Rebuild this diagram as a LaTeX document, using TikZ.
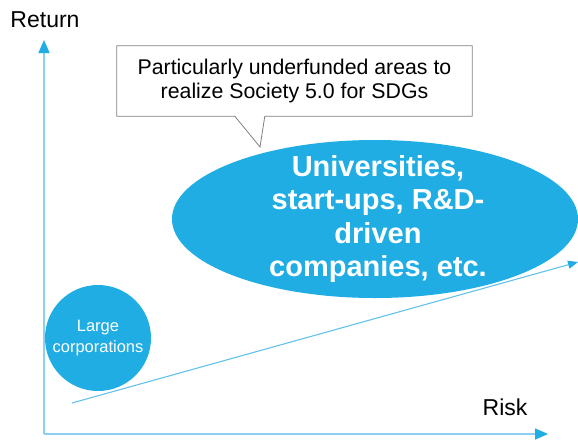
\documentclass[tikz,border=0pt]{standalone}
\usepackage{fontspec}
\setmainfont{Liberation Sans}
\usetikzlibrary{arrows.meta,calc,shapes.geometric}
\definecolor{blobblue}{HTML}{1FADE4}
\definecolor{axisblue}{HTML}{8ED0F0}
\definecolor{calloutgray}{HTML}{808080}
\tikzset{
  axis/.style={line width=1.6pt,axisblue,-{Triangle[length=13pt,width=11pt,color=blobblue]}},
  trend/.style={line width=1.1pt,axisblue!60!blobblue,-{Triangle[length=10pt,width=8pt,color=blobblue]}},
  blob/.style={fill=blobblue,text=white,inner sep=0pt,align=center},
}

\begin{document}
\begin{tikzpicture}[x=1pt,y=-1pt]
  \useasboundingbox (0,0) rectangle (578,440);
  \coordinate (origin) at (44,434);
  \coordinate (ytip) at (44,40);
  \coordinate (xtip) at (548,434);
  \draw[axis] (origin) -- (ytip);
  \draw[axis] (origin) -- (xtip);
  \node[font=\fontsize{23}{27}\selectfont] (return) at (45,20) {Return};
  \node[font=\fontsize{23}{27}\selectfont] (risk) at (505,407) {Risk};

  \node[blob,ellipse,minimum width=406pt,minimum height=158pt] (univ) at (375,219) {};
  \node[text=white,align=center,font=\bfseries\fontsize{29}{33.5}\selectfont] (univtext) at (378,219) {Universities,\\start-ups, R\&D-\\driven\\companies, etc.};
  \node[blob,circle,minimum size=106pt,font=\fontsize{16.5}{20.5}\selectfont] (large) at (98,338) {Large\\corporations};

  \node[align=center,minimum width=355pt,minimum height=70pt,font=\fontsize{21.3}{24}\selectfont] (callout) at (294.5,81) {Particularly underfunded areas to\\realize Society 5.0 for SDGs};
  \coordinate (pointer) at (260,147);
  \draw[calloutgray,line width=0.8pt] (callout.north west) -- (callout.north east) -- (callout.south east) -- ($(callout.south west)+(148,0)$) -- (pointer) -- ($(callout.south west)+(118,0)$) -- (callout.south west) -- cycle;

  \coordinate (trendstart) at (72,403);
  \coordinate (trendtip) at (578,262);
  \draw[trend] (trendstart) -- (trendtip);
\end{tikzpicture}
\end{document}
